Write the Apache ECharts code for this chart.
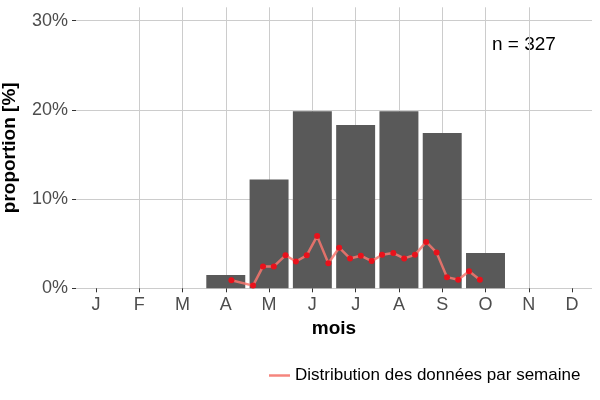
<!DOCTYPE html>
<html>
<head>
<meta charset="utf-8">
<script src="https://cdn.jsdelivr.net/npm/echarts@6/dist/echarts.min.js"></script>
<style>
  html, body { margin: 0; padding: 0; background: #fff; }
  #chart { width: 600px; height: 400px; }
</style>
</head>
<body>
<div id="chart"></div>
<script>
// Month labels (x ticks at 1..12)
const monthLabels = ['J', 'F', 'M', 'A', 'M', 'J', 'J', 'A', 'S', 'O', 'N', 'D'];
const monthTicks = [1, 2, 3, 4, 5, 6, 7, 8, 9, 10, 11, 12];
const yTicks = [0, 10, 20, 30];

// Monthly proportions (bars)
const barMonths = [4, 5, 6, 7, 8, 9, 10];
const barPct = [1.5, 12.2, 19.85, 18.3, 19.85, 17.4, 3.95];

// Weekly distribution (line), x in month units
const weekMonths = [4.13, 4.63, 4.86, 5.11, 5.38, 5.62, 5.87, 6.11, 6.37, 6.62, 6.87, 7.12,
    7.37, 7.61, 7.87, 8.12, 8.37, 8.63, 8.87, 9.11, 9.37, 9.62, 9.87];
const weekPct = [0.9, 0.3, 2.45, 2.45, 3.7, 3.0, 3.7, 5.85, 2.8, 4.55, 3.35, 3.65,
    3.05, 3.75, 3.95, 3.35, 3.75, 5.2, 4.0, 1.25, 0.95, 1.9, 0.95];

const lineName = 'Distribution des données par semaine';
const font = "'Liberation Sans', Arial, sans-serif";

const chart = echarts.init(document.getElementById('chart'));
const option = {
    animation: false,
    textStyle: { fontFamily: font },
    grid: {
        left: 76,
        right: 8,
        top: 7.3,
        bottom: 111.7,
        containLabel: false,
        outerBoundsMode: 'none'
    },
    xAxis: {
        type: 'value',
        min: 0.54,
        max: 12.46,
        minInterval: 1,
        maxInterval: 1,
        name: 'mois',
        nameLocation: 'middle',
        nameGap: 29,
        nameTextStyle: { fontSize: 19, fontWeight: 'bold', color: '#000', fontFamily: font },
        axisLine: { show: false },
        axisTick: {
            show: true,
            length: 4,
            customValues: monthTicks,
            lineStyle: { color: '#333' }
        },
        axisLabel: {
            customValues: monthTicks,
            margin: 8,
            fontSize: 18,
            color: '#4d4d4d',
            fontFamily: font,
            formatter: function (v) {
                return monthLabels[Math.round(v) - 1] || '';
            }
        },
        splitLine: {
            show: true,
            showMinLine: false,
            showMaxLine: false,
            lineStyle: { color: '#cccccc', width: 1 }
        }
    },
    yAxis: {
        type: 'value',
        min: 0,
        max: 31.5,
        minInterval: 10,
        maxInterval: 10,
        name: 'proportion [%]',
        nameLocation: 'middle',
        nameGap: 57,
        nameTextStyle: { fontSize: 19, fontWeight: 'bold', color: '#000', fontFamily: font },
        axisLine: { show: false },
        axisTick: {
            show: true,
            length: 4,
            customValues: yTicks,
            lineStyle: { color: '#333' }
        },
        axisLabel: {
            customValues: yTicks,
            margin: 8,
            fontSize: 18,
            color: '#4d4d4d',
            fontFamily: font,
            formatter: function (v) { return v + '%'; }
        },
        splitLine: {
            show: true,
            lineStyle: { color: '#cccccc', width: 1 }
        }
    },
    legend: {
        data: [{ name: lineName, icon: 'rect', itemStyle: { color: 'rgba(244,120,112,0.9)' } }],
        left: 264,
        top: 362,
        itemWidth: 21,
        itemHeight: 2.5,
        itemGap: 10,
        textStyle: { fontSize: 17, color: '#000', fontFamily: font }
    },
    graphic: [
        {
            type: 'text',
            left: 492,
            top: 35,
            style: { text: 'n = 327', fontSize: 19, fill: '#000', fontFamily: font }
        }
    ],
    series: [
        {
            name: 'mois',
            type: 'bar',
            barWidth: '90%',
            itemStyle: { color: '#595959' },
            data: barMonths.map(function (m, i) { return [m, barPct[i]]; })
        },
        {
            name: lineName,
            type: 'line',
            symbol: 'circle',
            symbolSize: 6,
            lineStyle: { color: 'rgba(248,118,109,0.85)', width: 2.5 },
            itemStyle: { color: '#e8121c' },
            data: weekMonths.map(function (m, i) { return [m, weekPct[i]]; })
        }
    ]
};
chart.setOption(option);
window.addEventListener('resize', function () {
    chart.resize();
});
</script>
</body>
</html>
